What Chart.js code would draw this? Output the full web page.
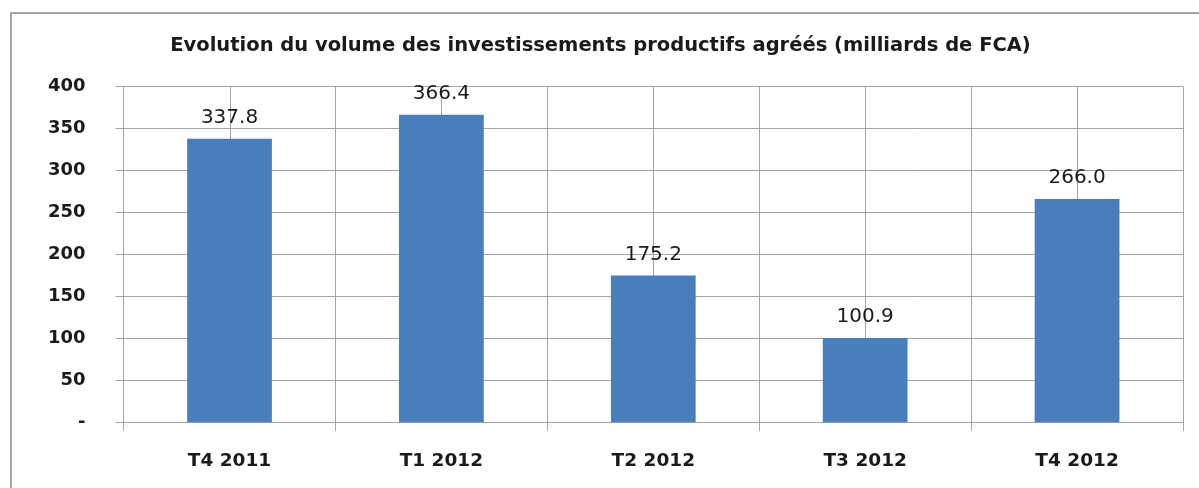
<!DOCTYPE html>
<html>
<head>
<meta charset="utf-8">
<script src="https://cdn.jsdelivr.net/npm/chart.js@4.4.0/dist/chart.umd.min.js"></script>
<style>
  body { margin: 0; background: #fff; }
  #cadre { position: absolute; left: 10px; top: 12px; width: 1300px; height: 600px; border: 2px solid #a6a6a6; box-sizing: border-box; }
  #zone { position: absolute; left: 0; top: 0; width: 1199px; height: 488px; }
</style>
</head>
<body>
<div id="cadre"></div>
<div id="zone"><canvas id="graphique"></canvas></div>
<script>
// donnees
var trimestres = ['T4 2011', 'T1 2012', 'T2 2012', 'T3 2012', 'T4 2012'];
var volumes = [337.8, 366.4, 175.2, 100.9, 266.0];
var titre = 'Evolution du volume des investissements productifs agréés (milliards de FCA)';

var police = "'DejaVu Sans', sans-serif";
var gris = '#a3a3a3';

// lignes verticales au centre de chaque categorie
var lignesCentre = {
    id: 'lignesCentre',
    beforeDatasetsDraw: function(chart) {
        var ctx = chart.ctx, x = chart.scales.x, zone = chart.chartArea;
        ctx.save();
        ctx.strokeStyle = gris;
        ctx.lineWidth = 1;
        for (var i = 0; i < trimestres.length; i++) {
            var px = Math.round(x.getPixelForValue(i)) + 0.5;
            ctx.beginPath();
            ctx.moveTo(px, zone.top);
            ctx.lineTo(px, zone.bottom);
            ctx.stroke();
        }
        ctx.restore();
    }
};

// etiquettes au dessus des barres
var etiquettes = {
    id: 'etiquettes',
    afterDatasetsDraw: function(chart) {
        var ctx = chart.ctx;
        var meta = chart.getDatasetMeta(0);
        ctx.save();
        ctx.font = '20px ' + police;
        ctx.fillStyle = '#1a1a1a';
        ctx.textAlign = 'center';
        ctx.textBaseline = 'middle';
        meta.data.forEach(function(barre, i) {
            ctx.fillText(volumes[i].toFixed(1), barre.x, barre.y - 21);
        });
        ctx.restore();
    }
};

var ctxGraph = document.getElementById('graphique').getContext('2d');
var graphique = new Chart(ctxGraph, {
    type: 'bar',
    data: {
        labels: trimestres,
        datasets: [{
            label: 'Volume',
            data: volumes,
            backgroundColor: '#4a7ebb',
            categoryPercentage: 1,
            barPercentage: 0.4
        }]
    },
    options: {
        responsive: true,
        maintainAspectRatio: false,
        animation: false,
        layout: { padding: { left: 18, right: 16, top: 0, bottom: -3 } },
        plugins: {
            legend: { display: false },
            tooltip: { enabled: false },
            title: {
                display: true,
                text: titre,
                color: '#1a1a1a',
                font: { family: police, size: 19.5, weight: 'bold' },
                padding: { top: 34, bottom: 29 }
            }
        },
        scales: {
            x: {
                offset: true,
                grid: { offset: true, color: gris, tickLength: 8, drawOnChartArea: true },
                border: { color: gris },
                ticks: { color: '#1a1a1a', padding: 19, font: { family: police, size: 18.5, weight: 'bold' } }
            },
            y: {
                min: 0,
                max: 400,
                ticks: {
                    stepSize: 50,
                    padding: 30,
                    color: '#1a1a1a',
                    font: { family: police, size: 18, weight: 'bold' },
                    callback: function(v) { return v === 0 ? '-' : v; }
                },
                grid: { color: gris, tickLength: 8 },
                border: { color: gris }
            }
        }
    },
    plugins: [lignesCentre, etiquettes]
});
</script>
</body>
</html>
